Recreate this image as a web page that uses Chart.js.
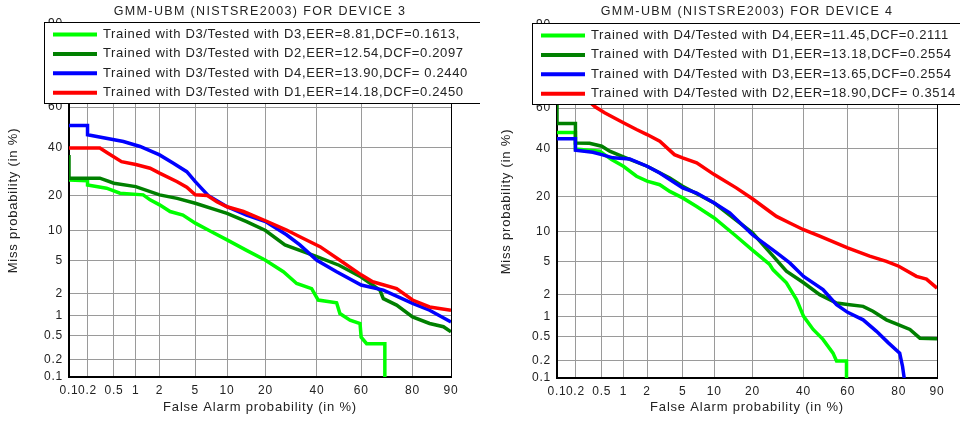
<!DOCTYPE html>
<html>
<head>
<meta charset="utf-8">
<script src="https://cdn.jsdelivr.net/npm/chart.js@4.4.0/dist/chart.umd.min.js"></script>
<style>
  html, body { margin: 0; padding: 0; background: #fff; }
  #wrap { position: relative; width: 960px; height: 421px; overflow: hidden; }
  canvas { position: absolute; top: 0; }
  #dev3 { left: 0; }
  #dev4 { left: 480px; }
</style>
</head>
<body>
<div id="wrap">
  <canvas id="dev3" width="480" height="421"></canvas>
  <canvas id="dev4" width="480" height="421"></canvas>
</div>
<script>
// axis ticks (in %)
const tickValues = [0.1, 0.2, 0.5, 1, 2, 5, 10, 20, 40, 60, 80, 90];
const axisMin = 0.1;
const axisMax = 90;

// device 3 : [false alarm %, miss %]
const d3TestD3 = [[0.1,25.8],[0.2,25.5],[0.2,23.8],[0.39,22.6],[0.61,20.8],[1.25,20.2],[1.53,18.5],[2,16.9],[2.66,14.9],[3.7,13.9],[5,11.8],[7,10],[10,8.2],[14.5,6.4],[20,5.0],[26.2,3.7],[31.4,2.67],[37.7,2.3],[40.6,1.63],[48.9,1.5],[50.4,1.06],[55,0.85],[59.5,0.76],[60,0.47],[62.4,0.37],[70,0.37],[70,0.1]];
const d3TestD2 = [[0.1,36.7],[0.1,26.5],[0.31,26.5],[0.5,24.5],[1,23.2],[2,20.2],[3.2,19],[5,17.4],[8.1,15.3],[10,14.4],[14.5,12.2],[20,10.1],[26.8,7.3],[40,5.5],[50,4.4],[60,3.2],[68,2.2],[69.4,1.7],[74.5,1.39],[80,0.95],[85,0.76],[88.4,0.68],[90,0.57]];
const d3TestD4 = [[0.1,51],[0.2,51],[0.2,46.4],[0.68,43.1],[1.14,40.7],[2,36.7],[2.9,32.9],[4.07,29.2],[5,25.1],[6,21.9],[6.7,20],[10,16.3],[14.5,13.9],[20,12.2],[27.4,9.2],[32.7,7.3],[40,5.0],[48.9,3.7],[60,2.55],[69.4,2.2],[80,1.47],[85,1.18],[90,0.8]];
const d3TestD1 = [[0.1,40],[0.31,40],[0.41,37.5],[0.64,33.6],[1,32.3],[1.53,30.7],[2,28.6],[3.2,25.1],[4.07,23],[5,20.2],[6.6,20],[8.1,17.9],[10,16.3],[13.7,14.9],[20,12.4],[27.4,10.2],[32.7,8.8],[41.4,7.0],[50.4,5.0],[60,3.4],[65,2.8],[74.5,2.3],[80,1.63],[85,1.31],[90,1.18]];

// device 4
const d4TestD4 = [[0.1,48],[0.2,48],[0.2,40],[0.47,38.9],[0.69,35],[1,32],[1.48,27.7],[2,25.7],[2.82,24.3],[3.65,21.8],[5,19.5],[6.9,16.7],[10,13.4],[15.2,9.1],[20,6.6],[26,4.6],[27.3,4.0],[32.6,2.8],[36.9,1.7],[40,1.0],[44.3,0.64],[48.8,0.45],[53.4,0.27],[55,0.2],[59.5,0.2],[59.5,0.1]];
const d4TestD1 = [[0.1,70],[0.1,52.4],[0.2,52.4],[0.2,42.9],[0.33,42.7],[0.5,41.3],[0.65,38.9],[1,36.3],[2,32],[3.65,27],[5,23.7],[10,17.8],[20,9.8],[27.3,5.7],[32.6,3.85],[40,2.8],[47.3,1.98],[55,1.53],[60,1.46],[66.7,1.38],[70.7,1.18],[75.8,0.89],[80,0.75],[83.4,0.64],[86.1,0.47],[90,0.46]];
const d4TestD3 = [[0.1,44.9],[0.2,44.9],[0.2,39.4],[0.37,38.4],[0.5,37.3],[0.72,35.8],[1.21,35.3],[2,32],[2.82,29.1],[5,23.1],[6.9,21.2],[10,17.8],[13.5,14.8],[20,9.4],[28.6,6.2],[34,4.8],[40,3.35],[48.8,2.3],[55,1.46],[60,1.14],[66.7,0.89],[72.1,0.6],[76.4,0.4],[80.3,0.27],[81.2,0.16],[81.7,0.1]];
const d4TestD2 = [[0.3,64],[0.4,60.6],[0.55,57.7],[1,52.8],[1.48,49.5],[2,47],[2.82,43.7],[4.1,37.3],[5,35.8],[6.9,33.5],[10,28.4],[15.2,23.1],[20,19.2],[26,15.2],[28.6,13.8],[34,12.1],[40,10.5],[47.3,9.1],[60,6.95],[69.4,5.7],[75.8,5.0],[80,4.4],[85.2,3.35],[87.7,3.1],[90,2.4]];

const labels3 = [
  'Trained with D3/Tested with D3,EER=8.81,DCF=0.1613,',
  'Trained with D3/Tested with D2,EER=12.54,DCF=0.2097',
  'Trained with D3/Tested with D4,EER=13.90,DCF= 0.2440',
  'Trained with D3/Tested with D1,EER=14.18,DCF=0.2450'
];
const labels4 = [
  'Trained with D4/Tested with D4,EER=11.45,DCF=0.2111',
  'Trained with D4/Tested with D1,EER=13.18,DCF=0.2554',
  'Trained with D4/Tested with D3,EER=13.65,DCF=0.2554',
  'Trained with D4/Tested with D2,EER=18.90,DCF= 0.3514'
];
const colors = ['#00ff00', '#008000', '#0000ff', '#ff0000'];

const FONT = '"Liberation Sans", Arial, sans-serif';

// inverse normal cdf (Acklam)
function probit(p) {
  const a = [-39.69683028665376, 220.9460984245205, -275.9285104469687, 138.3577518672690, -30.66479806614716, 2.506628277459239];
  const b = [-54.47609879822406, 161.5858368580409, -155.6989798598866, 66.80131188771972, -13.28068155288572];
  const c = [-0.007784894002430293, -0.3223964580411365, -2.400758277161838, -2.549732539343734, 4.374664141464968, 2.938163982698783];
  const d = [0.007784695709041462, 0.3224671290700398, 2.445134137142996, 3.754408661907416];
  const pl = 0.02425;
  let q, r;
  if (p < pl) {
    q = Math.sqrt(-2 * Math.log(p));
    return (((((c[0]*q+c[1])*q+c[2])*q+c[3])*q+c[4])*q+c[5]) / ((((d[0]*q+d[1])*q+d[2])*q+d[3])*q+1);
  }
  if (p > 1 - pl) {
    q = Math.sqrt(-2 * Math.log(1 - p));
    return -(((((c[0]*q+c[1])*q+c[2])*q+c[3])*q+c[4])*q+c[5]) / ((((d[0]*q+d[1])*q+d[2])*q+d[3])*q+1);
  }
  q = p - 0.5; r = q * q;
  return (((((a[0]*r+a[1])*r+a[2])*r+a[3])*r+a[4])*r+a[5])*q / (((((b[0]*r+b[1])*r+b[2])*r+b[3])*r+b[4])*r+1);
}

function normCdf(z) {
  const t = 1 / (1 + 0.3275911 * Math.abs(z) / Math.SQRT2);
  const y = 1 - (((((1.061405429*t - 1.453152027)*t) + 1.421413741)*t - 0.284496736)*t + 0.254829592) * t * Math.exp(-z*z/2);
  return z >= 0 ? (1 + y) / 2 : (1 - y) / 2;
}

// normal-deviate (DET) axis
class ProbitScale extends Chart.Scale {
  determineDataLimits() {
    this.min = this.options.min;
    this.max = this.options.max;
  }
  buildTicks() {
    return tickValues.map(v => ({ value: v }));
  }
  getLabelForValue(v) {
    return v + '%';
  }
  configure() {
    super.configure();
    this._z0 = probit(this.min / 100);
    this._zSpan = probit(this.max / 100) - this._z0;
  }
  getPixelForValue(v) {
    if (v === null || v === undefined) return NaN;
    return this.getPixelForDecimal((probit(v / 100) - this._z0) / this._zSpan);
  }
  getValueForPixel(px) {
    return 100 * normCdf(this._z0 + this.getDecimalForPixel(px) * this._zSpan);
  }
  getPixelForTick(i) {
    return this.getPixelForValue(this.ticks[i].value);
  }
}
ProbitScale.id = 'probit';
ProbitScale.defaults = {};
Chart.register(ProbitScale);

const detDecor = {
  id: 'detDecor',
  beforeDraw(chart) {
    chart.ctx.letterSpacing = '0.8px';
  },
  afterDraw(chart, args, opts) {
    const ctx = chart.ctx;
    const a = chart.chartArea;
    ctx.save();
    // top and right edges of the axes box
    ctx.strokeStyle = '#000';
    ctx.lineWidth = 1;
    ctx.beginPath();
    ctx.moveTo(Math.round(a.left), Math.round(a.top) + 0.5);
    ctx.lineTo(Math.round(a.right) + 0.5, Math.round(a.top) + 0.5);
    ctx.lineTo(Math.round(a.right) + 0.5, Math.round(a.bottom));
    ctx.stroke();

    // title
    ctx.fillStyle = '#222';
    ctx.font = '12.5px ' + FONT;
    ctx.letterSpacing = '1.35px';
    ctx.textAlign = 'center';
    ctx.textBaseline = 'middle';
    ctx.fillText(opts.title, (a.left + a.right) / 2, 11.5);

    // legend box
    ctx.font = '13px ' + FONT;
    ctx.letterSpacing = '0.65px';
    const dss = chart.data.datasets;
    const tw = Math.max(...dss.map(ds => ctx.measureText(ds.label).width));
    const x0 = Math.round(a.left - 25), y0 = Math.round(a.top - 2);
    const w = Math.round(59 + tw + 12), h = 81;
    ctx.fillStyle = '#fff';
    ctx.fillRect(x0, y0, w, h);
    ctx.strokeStyle = '#000';
    ctx.strokeRect(x0 + 0.5, y0 + 0.5, w, h);
    ctx.textAlign = 'left';
    dss.forEach((ds, i) => {
      const y = y0 + 12.5 + i * 19.4;
      ctx.strokeStyle = ds.borderColor;
      ctx.lineWidth = 4;
      ctx.beginPath();
      ctx.moveTo(x0 + 9, y);
      ctx.lineTo(x0 + 53, y);
      ctx.stroke();
      ctx.fillStyle = '#222';
      ctx.fillText(ds.label, x0 + 59, y);
    });
    ctx.restore();
  }
};

function makeChart(id, series, labels, title, lay) {
  const datasets = series.map((pts, i) => ({
    label: labels[i],
    data: pts.map(([x, y]) => ({ x: x, y: y })),
    borderColor: colors[i],
    backgroundColor: colors[i],
    borderWidth: 3.5,
    pointRadius: 0,
    tension: 0,
    fill: false,
    order: 4 - i
  }));
  const axis = (text, isY) => ({
    type: 'probit',
    min: axisMin,
    max: axisMax,
    grid: { color: '#9a9a9a', lineWidth: 1, drawTicks: false },
    border: { display: true, color: '#000', width: 2 },
    ticks: {
      autoSkip: false,
      maxRotation: 0,
      minRotation: 0,
      padding: isY ? 6 : 6,
      color: '#222',
      font: { family: FONT, size: 12 },
      callback: v => String(v)
    },
    title: {
      display: true,
      text: text,
      color: '#222',
      font: { family: FONT, size: 13 },
      padding: { top: 6, bottom: 6 }
    },
    afterFit: s => {
      if (isY) s.width = lay.yWidth; else s.height = lay.xHeight;
    }
  });
  return new Chart(document.getElementById(id), {
    type: 'line',
    data: { datasets: datasets },
    options: {
      responsive: false,
      animation: false,
      events: [],
      layout: { padding: { left: lay.left, right: lay.right, top: lay.top, bottom: 0 } },
      scales: {
        x: axis('False Alarm probability (in %)', false),
        y: axis('Miss probability (in %)', true)
      },
      plugins: {
        legend: { display: false },
        tooltip: { enabled: false },
        detDecor: { title: title }
      }
    },
    plugins: [detDecor]
  });
}

makeChart('dev3', [d3TestD3, d3TestD2, d3TestD4, d3TestD1], labels3,
  'GMM-UBM (NISTSRE2003) FOR DEVICE 3',
  { left: 0, yWidth: 69, right: 29, top: 24, xHeight: 44 });
makeChart('dev4', [d4TestD4, d4TestD1, d4TestD3, d4TestD2], labels4,
  'GMM-UBM (NISTSRE2003) FOR DEVICE 4',
  { left: 13, yWidth: 64, right: 23, top: 25, xHeight: 43 });
</script>
</body>
</html>
